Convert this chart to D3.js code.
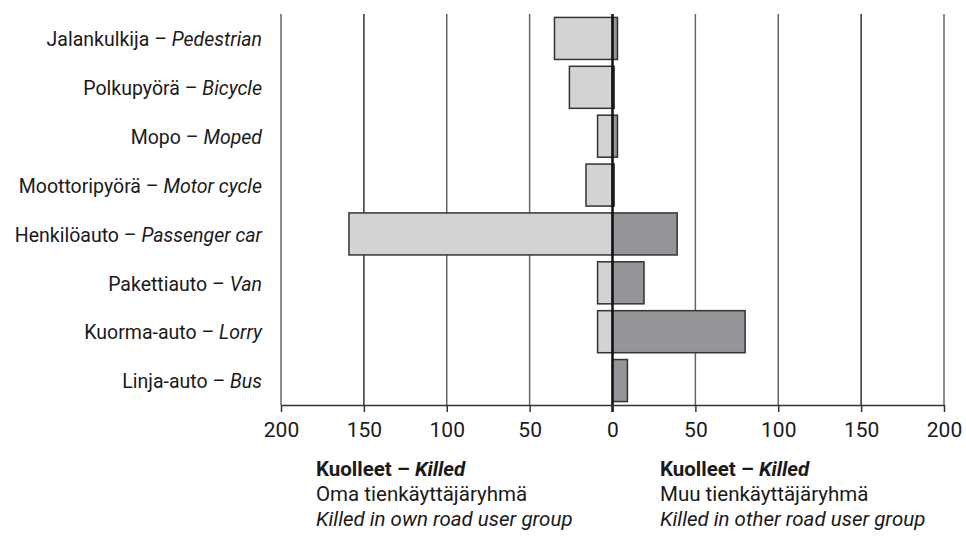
<!DOCTYPE html>
<html>
<head>
<meta charset="utf-8">
<script src="https://cdn.jsdelivr.net/npm/d3@7"></script>
<style>
  body { margin: 0; background: #fff; }
  svg text { font-family: Roboto, "Liberation Sans", sans-serif; fill: #1a1a1a; }
</style>
</head>
<body>
<div id="chart"></div>
<script>

// data ====================

var groupsFi = ["Jalankulkija", "Polkupyörä", "Mopo", "Moottoripyörä", "Henkilöauto", "Pakettiauto", "Kuorma-auto", "Linja-auto"];
var groupsEn = ["Pedestrian", "Bicycle", "Moped", "Motor cycle", "Passenger car", "Van", "Lorry", "Bus"];

// killed in own road user group (drawn to the left)
var ownGroup = [35, 26, 9, 16, 159, 9, 9, 0];
// killed in other road user group (drawn to the right)
var otherGroup = [3, 1, 3, 1, 39, 19, 80, 9];

var tickValues = [-200, -150, -100, -50, 0, 50, 100, 150, 200];

// chart ====================

var width = 966;
var height = 536;

var svg = d3.select('#chart')
  .append('svg')
  .attr('width', width)
  .attr('height', height);

var x = d3.scaleLinear()
  .domain([-200, 200])
  .range([281, 944]);

var y = d3.scaleBand()
  .domain(groupsFi)
  .range([14, 405])
  .paddingInner(0.14)
  .paddingOuter(0.07);

// gridlines
svg.append('g')
  .selectAll('line')
  .data(tickValues.filter(function(d) { return d !== 0; }))
  .enter().append('line')
  .attr('x1', function(d) { return x(d); })
  .attr('x2', function(d) { return x(d); })
  .attr('y1', 14)
  .attr('y2', 405)
  .attr('stroke', function(d) { return Math.abs(d) === 150 ? '#333' : '#666'; })
  .attr('stroke-width', 1.5);

// left bars (no bar where the value is 0)
svg.append('g')
  .selectAll('rect')
  .data(ownGroup)
  .enter().append('rect')
  .attr('x', function(d) { return x(-d); })
  .attr('y', function(d, i) { return y(groupsFi[i]); })
  .attr('width', function(d) { return x(0) - x(-d); })
  .attr('height', y.bandwidth())
  .attr('display', function(d) { return d > 0 ? null : 'none'; })
  .attr('fill', '#d1d3d4')
  .attr('stroke', '#333')
  .attr('stroke-width', 1.5);

// right bars
svg.append('g')
  .selectAll('rect')
  .data(otherGroup)
  .enter().append('rect')
  .attr('x', x(0))
  .attr('y', function(d, i) { return y(groupsFi[i]); })
  .attr('width', function(d) { return x(d) - x(0); })
  .attr('height', y.bandwidth())
  .attr('fill', '#939598')
  .attr('stroke', '#333')
  .attr('stroke-width', 1.5);

// zero line
svg.append('line')
  .attr('x1', x(0))
  .attr('x2', x(0))
  .attr('y1', 14)
  .attr('y2', 412)
  .attr('stroke', '#111')
  .attr('stroke-width', 2.5);

// x axis
var axis = d3.axisBottom(x)
  .tickValues(tickValues)
  .tickSize(7)
  .tickSizeOuter(0)
  .tickFormat(function(d) { return Math.abs(d); });

var gx = svg.append('g')
  .attr('transform', 'translate(0,405)')
  .call(axis);

gx.select('.domain')
  .attr('stroke', '#333')
  .attr('stroke-width', 1.5);
gx.selectAll('.tick line')
  .attr('stroke', '#333')
  .attr('stroke-width', 1.5);
gx.selectAll('.tick text')
  .attr('dy', 0)
  .attr('y', 32)
  .style('font-size', '21px')
  .style('font-family', 'Roboto, sans-serif')
  .attr('fill', '#1a1a1a');

// category labels
var labels = svg.append('g')
  .selectAll('text')
  .data(groupsFi)
  .enter().append('text')
  .attr('x', 262)
  .attr('y', function(d) { return y(d) + y.bandwidth() / 2; })
  .attr('dy', '0.4em')
  .attr('text-anchor', 'end')
  .style('font-size', '19.5px');

labels.append('tspan')
  .text(function(d) { return d + ' \u2013 '; });
labels.append('tspan')
  .style('font-style', 'italic')
  .text(function(d, i) { return groupsEn[i]; });

// legend texts under the axis
var legendLines = [
  { x: 316, fi: 'Oma tienkäyttäjäryhmä', en: 'Killed in own road user group' },
  { x: 660, fi: 'Muu tienkäyttäjäryhmä', en: 'Killed in other road user group' }
];

legendLines.forEach(function(l) {
  var title = svg.append('text')
    .attr('x', l.x)
    .attr('y', 476)
    .style('font-size', '20.5px')
    .style('font-weight', 'bold');
  title.append('tspan').text('Kuolleet \u2013 ');
  title.append('tspan').style('font-style', 'italic').text('Killed');

  svg.append('text')
    .attr('x', l.x)
    .attr('y', 501)
    .style('font-size', '20.5px')
    .text(l.fi);

  svg.append('text')
    .attr('x', l.x)
    .attr('y', 526)
    .style('font-size', '20.5px')
    .style('font-style', 'italic')
    .text(l.en);
});

</script>
</body>
</html>
